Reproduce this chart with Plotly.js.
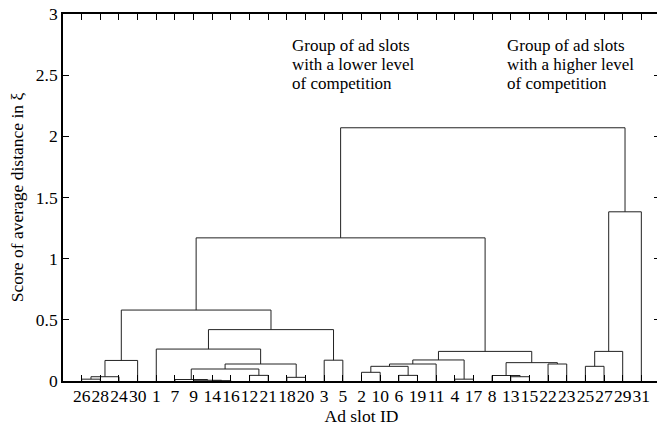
<!DOCTYPE html>
<html>
<head>
<meta charset="utf-8">
<script src="https://cdn.plot.ly/plotly-3.0.1.min.js"></script>
<style>
html, body { margin: 0; padding: 0; overflow: hidden; background: #fff; }
#chart { width: 664px; height: 426px; }
</style>
</head>
<body>
<div id="chart"></div>
<script>
// Leaf order along the x axis (tick labels)
const leafOrder = ['26','28','24','30','1','7','9','14','16','12','21','18','20','3','5','2','10','6','19','11','4','17','8','13','15','22','23','25','27','29','31'];
// Linkage (MATLAB style): ids 1..31 are leaves, id 31+k is the k-th merge
const linkLeft   = [14, 9, 7, 26, 4, 18, 35, 13, 8, 12, 6, 2, 34, 43, 25, 44, 45, 22, 40, 38, 3, 48, 53, 46, 1, 56, 51, 58, 55, 59];
const linkRight  = [16, 32, 33, 28, 17, 20, 24, 15, 39, 21, 19, 10, 41, 42, 27, 37, 11, 23, 49, 30, 5, 36, 50, 29, 47, 52, 57, 54, 31, 60];
const linkHeight = [0.003, 0.006, 0.012, 0.015, 0.015, 0.03, 0.035, 0.035, 0.045, 0.046, 0.046, 0.071, 0.098, 0.12, 0.12, 0.139, 0.139, 0.139, 0.15, 0.168, 0.17, 0.172, 0.242, 0.242, 0.261, 0.42, 0.58, 1.17, 1.383, 2.07];
// Annotation texts
const noteLow  = ['Group of ad slots', 'with a lower level', 'of competition'];
const noteHigh = ['Group of ad slots', 'with a higher level', 'of competition'];
const yTickVals = [0, 0.5, 1, 1.5, 2, 2.5, 3];
const yTickText = ['0', '0.5', '1', '1.5', '2', '2.5', '3'];

const nLeaves = leafOrder.length;
const nodeX = {}, nodeH = {};
leafOrder.forEach((lab, i) => { nodeX[+lab] = i + 1; nodeH[+lab] = 0; });
const xs = [], ys = [];
for (let k = 0; k < linkLeft.length; k++) {
  const a = linkLeft[k], b = linkRight[k], h = linkHeight[k];
  xs.push(nodeX[a], nodeX[a], nodeX[b], nodeX[b], null);
  ys.push(nodeH[a], h, h, nodeH[b], null);
  const id = nLeaves + 1 + k;
  nodeX[id] = (nodeX[a] + nodeX[b]) / 2;
  nodeH[id] = h;
}

const FONT = 'Liberation Serif, Times New Roman, serif';
const fs = 17.5;

const annotations = [];
const lineY = [2.74, 2.585, 2.43];
const noteCommon = {xref: 'x', yref: 'y', showarrow: false, xanchor: 'left', yanchor: 'middle',
  borderpad: 0, font: {family: FONT, size: 17, color: '#000'}};
noteLow.forEach((t, i) => annotations.push(Object.assign({x: 12.22, y: lineY[i], text: t}, noteCommon)));
noteHigh.forEach((t, i) => annotations.push(Object.assign({x: 23.74, y: lineY[i], text: t}, noteCommon)));

const data = [{
  x: xs, y: ys, type: 'scatter', mode: 'lines',
  line: {color: '#222', width: 1}, hoverinfo: 'skip', showlegend: false, connectgaps: false
}];

const axisCommon = {
  showline: true, linecolor: '#000', linewidth: 1.8, mirror: 'ticks',
  ticks: 'inside', ticklen: 6, tickwidth: 1, tickcolor: '#000',
  showgrid: false, zeroline: false,
  tickfont: {family: FONT, size: fs, color: '#000'}
};

const layout = {
  width: 664, height: 426,
  margin: {l: 63, r: 4, t: 14, b: 45},
  paper_bgcolor: '#fff', plot_bgcolor: '#fff',
  font: {family: FONT, color: '#000'},
  xaxis: Object.assign({}, axisCommon, {
    range: [0, nLeaves + 1], tickmode: 'array',
    tickvals: leafOrder.map((_, i) => i + 1), ticktext: leafOrder,
    tickangle: 0, ticklabelstandoff: -2,
    title: {text: 'Ad slot ID', font: {family: FONT, size: fs, color: '#000'}, standoff: 0}
  }),
  yaxis: Object.assign({}, axisCommon, {
    range: [0, 3], tickmode: 'array', tickvals: yTickVals, ticktext: yTickText,
    ticklabelstandoff: 0,
    title: {text: 'Score of average distance in ξ', font: {family: FONT, size: fs, color: '#000'}, standoff: 8}
  }),
  annotations: annotations
};

Plotly.newPlot('chart', data, layout, {displayModeBar: false, staticPlot: true});
</script>
</body>
</html>
